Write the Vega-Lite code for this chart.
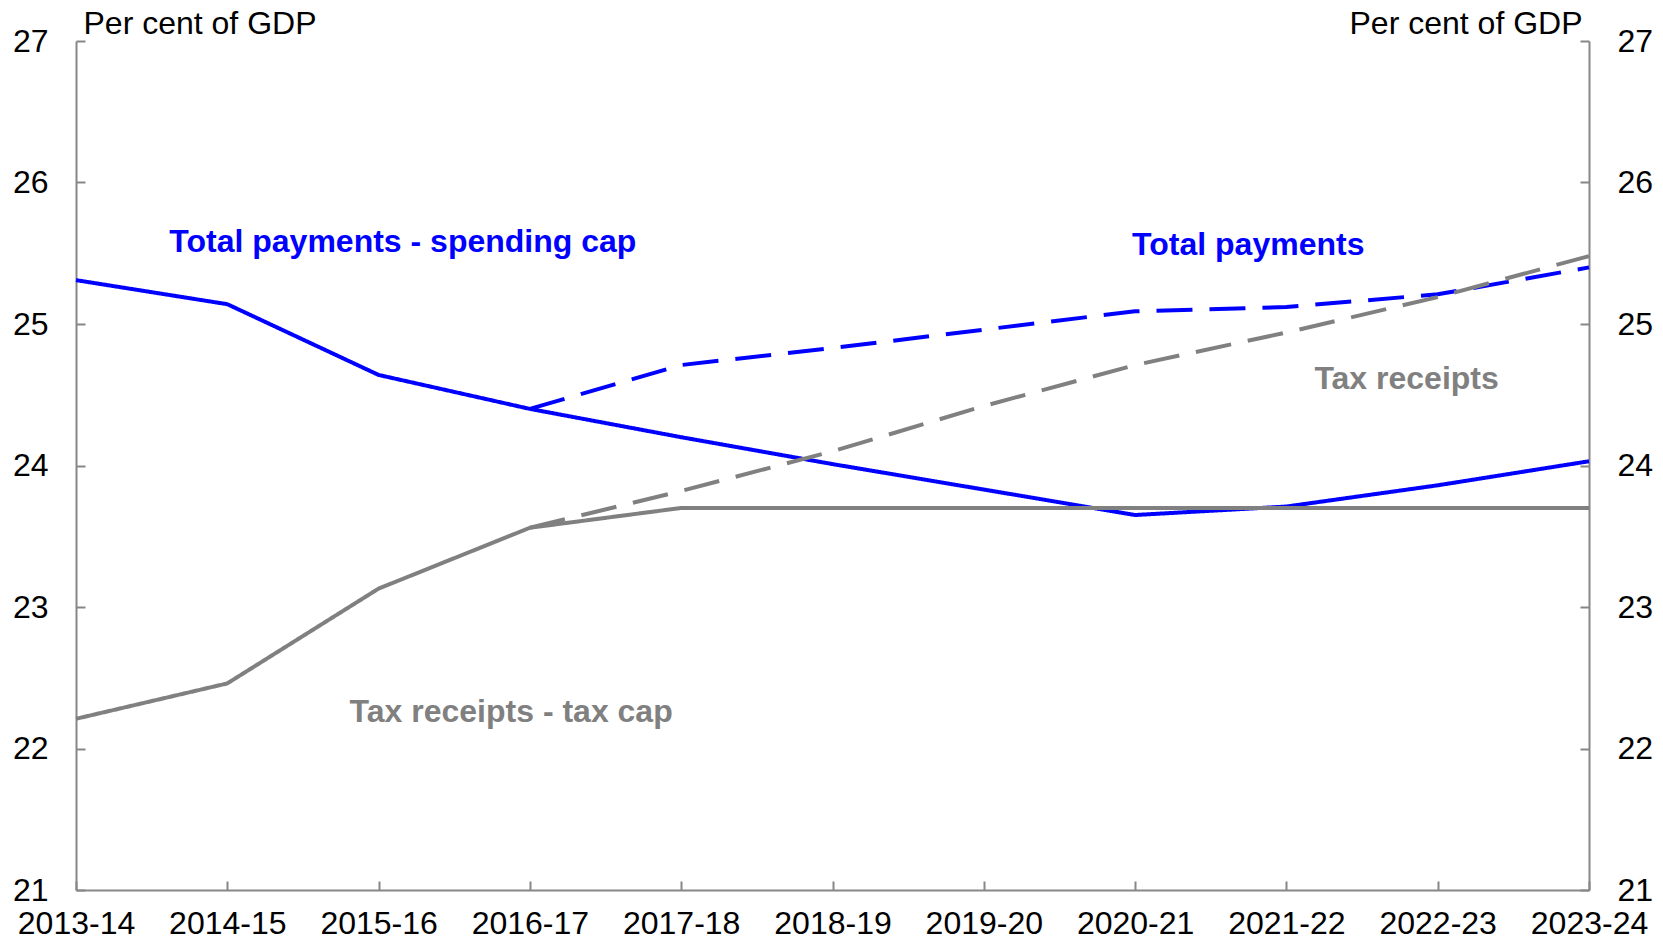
{
  "$schema": "https://vega.github.io/schema/vega-lite/v6.json",
  "width": 1513,
  "height": 849,
  "autosize": "none",
  "padding": {"left": 76, "top": 41, "right": 74, "bottom": 51},
  "config": {
    "view": {"stroke": null},
    "font": "Liberation Sans",
    "axis": {
      "grid": false,
      "domainColor": "#878787",
      "domainWidth": 2,
      "tickColor": "#878787",
      "tickWidth": 2,
      "tickSize": -9,
      "labelFont": "Liberation Sans",
      "labelFontSize": 32,
      "labelColor": "#000000",
      "titleFont": "Liberation Sans",
      "titleFontSize": 32,
      "titleFontWeight": "normal",
      "titleColor": "#000000"
    }
  },
  "datasets": {
    "lines": [
      {"year": "2013-14", "series": "Total payments - spending cap", "value": 25.31},
      {"year": "2014-15", "series": "Total payments - spending cap", "value": 25.14},
      {"year": "2015-16", "series": "Total payments - spending cap", "value": 24.64},
      {"year": "2016-17", "series": "Total payments - spending cap", "value": 24.40},
      {"year": "2017-18", "series": "Total payments - spending cap", "value": 24.20},
      {"year": "2018-19", "series": "Total payments - spending cap", "value": 24.01},
      {"year": "2019-20", "series": "Total payments - spending cap", "value": 23.83},
      {"year": "2020-21", "series": "Total payments - spending cap", "value": 23.65},
      {"year": "2021-22", "series": "Total payments - spending cap", "value": 23.71},
      {"year": "2022-23", "series": "Total payments - spending cap", "value": 23.86},
      {"year": "2023-24", "series": "Total payments - spending cap", "value": 24.03},
      {"year": "2016-17", "series": "Total payments", "value": 24.40},
      {"year": "2017-18", "series": "Total payments", "value": 24.71},
      {"year": "2018-19", "series": "Total payments", "value": 24.83},
      {"year": "2019-20", "series": "Total payments", "value": 24.96},
      {"year": "2020-21", "series": "Total payments", "value": 25.09},
      {"year": "2021-22", "series": "Total payments", "value": 25.12},
      {"year": "2022-23", "series": "Total payments", "value": 25.21},
      {"year": "2023-24", "series": "Total payments", "value": 25.40},
      {"year": "2013-14", "series": "Tax receipts - tax cap", "value": 22.21},
      {"year": "2014-15", "series": "Tax receipts - tax cap", "value": 22.46},
      {"year": "2015-16", "series": "Tax receipts - tax cap", "value": 23.13},
      {"year": "2016-17", "series": "Tax receipts - tax cap", "value": 23.56},
      {"year": "2017-18", "series": "Tax receipts - tax cap", "value": 23.70},
      {"year": "2018-19", "series": "Tax receipts - tax cap", "value": 23.70},
      {"year": "2019-20", "series": "Tax receipts - tax cap", "value": 23.70},
      {"year": "2020-21", "series": "Tax receipts - tax cap", "value": 23.70},
      {"year": "2021-22", "series": "Tax receipts - tax cap", "value": 23.70},
      {"year": "2022-23", "series": "Tax receipts - tax cap", "value": 23.70},
      {"year": "2023-24", "series": "Tax receipts - tax cap", "value": 23.70},
      {"year": "2016-17", "series": "Tax receipts", "value": 23.56},
      {"year": "2017-18", "series": "Tax receipts", "value": 23.82},
      {"year": "2018-19", "series": "Tax receipts", "value": 24.10},
      {"year": "2019-20", "series": "Tax receipts", "value": 24.42},
      {"year": "2020-21", "series": "Tax receipts", "value": 24.71},
      {"year": "2021-22", "series": "Tax receipts", "value": 24.94},
      {"year": "2022-23", "series": "Tax receipts", "value": 25.19},
      {"year": "2023-24", "series": "Tax receipts", "value": 25.48}
    ],
    "labels": [
      {"label": "Total payments - spending cap", "year": "2014-15", "value": 25.58, "kind": "blue1"},
      {"label": "Total payments", "year": "2020-21", "value": 25.555, "kind": "blue2"},
      {"label": "Tax receipts", "year": "2021-22", "value": 24.61, "kind": "gray1"},
      {"label": "Tax receipts - tax cap", "year": "2015-16", "value": 22.255, "kind": "gray2"}
    ]
  },
  "encoding": {
    "x": {
      "field": "year",
      "type": "ordinal",
      "scale": {
        "type": "point",
        "padding": 0,
        "domain": ["2013-14", "2014-15", "2015-16", "2016-17", "2017-18", "2018-19", "2019-20", "2020-21", "2021-22", "2022-23", "2023-24"]
      },
      "axis": {
        "title": null,
        "labelAngle": 0,
        "labelFlush": false,
        "labelOverlap": false,
        "labelPadding": 27,
        "labelBaseline": "top"
      }
    }
  },
  "layer": [
    {
      "data": {"name": "lines"},
      "mark": {"type": "line", "strokeWidth": 4, "strokeCap": "butt", "strokeJoin": "round"},
      "encoding": {
        "y": {
          "field": "value",
          "type": "quantitative",
          "scale": {"domain": [21, 27], "nice": false, "zero": false},
          "axis": {
            "orient": "left",
            "values": [21, 22, 23, 24, 25, 26, 27],
            "title": "Per cent of GDP",
            "titleAngle": 0,
            "titleAlign": "left",
            "titleBaseline": "alphabetic",
            "titleX": 7,
            "titleY": -8,
            "labelPadding": 37
          }
        },
        "color": {
          "field": "series",
          "type": "nominal",
          "scale": {
            "domain": ["Tax receipts - tax cap", "Tax receipts", "Total payments - spending cap", "Total payments"],
            "range": ["#808080", "#808080", "#0000FF", "#0000FF"]
          },
          "legend": null
        },
        "strokeDash": {
          "field": "series",
          "type": "nominal",
          "scale": {
            "domain": ["Tax receipts - tax cap", "Tax receipts", "Total payments - spending cap", "Total payments"],
            "range": [[1, 0], [36, 17], [1, 0], [36, 17]]
          },
          "legend": null
        }
      }
    },
    {
      "data": {"name": "labels"},
      "encoding": {
        "y": {
          "field": "value",
          "type": "quantitative",
          "scale": {"domain": [21, 27], "nice": false, "zero": false},
          "axis": {
            "orient": "right",
            "values": [21, 22, 23, 24, 25, 26, 27],
            "title": "Per cent of GDP",
            "titleAngle": 0,
            "titleAlign": "right",
            "titleBaseline": "alphabetic",
            "titleX": -7,
            "titleY": -8,
            "labelPadding": 37
          }
        },
        "text": {"field": "label"}
      },
      "layer": [
        {
          "transform": [{"filter": "datum.kind === 'blue1'"}],
          "mark": {"type": "text", "align": "left", "baseline": "middle", "dx": -58, "font": "Liberation Sans", "fontSize": 32, "fontWeight": "bold", "color": "#0000FF"}
        },
        {
          "transform": [{"filter": "datum.kind === 'blue2'"}],
          "mark": {"type": "text", "align": "left", "baseline": "middle", "dx": -3, "font": "Liberation Sans", "fontSize": 32, "fontWeight": "bold", "color": "#0000FF"}
        },
        {
          "transform": [{"filter": "datum.kind === 'gray1'"}],
          "mark": {"type": "text", "align": "left", "baseline": "middle", "dx": 28, "font": "Liberation Sans", "fontSize": 32, "fontWeight": "bold", "color": "#808080"}
        },
        {
          "transform": [{"filter": "datum.kind === 'gray2'"}],
          "mark": {"type": "text", "align": "left", "baseline": "middle", "dx": -29, "font": "Liberation Sans", "fontSize": 32, "fontWeight": "bold", "color": "#808080"}
        }
      ]
    }
  ],
  "resolve": {"scale": {"y": "independent"}}
}
